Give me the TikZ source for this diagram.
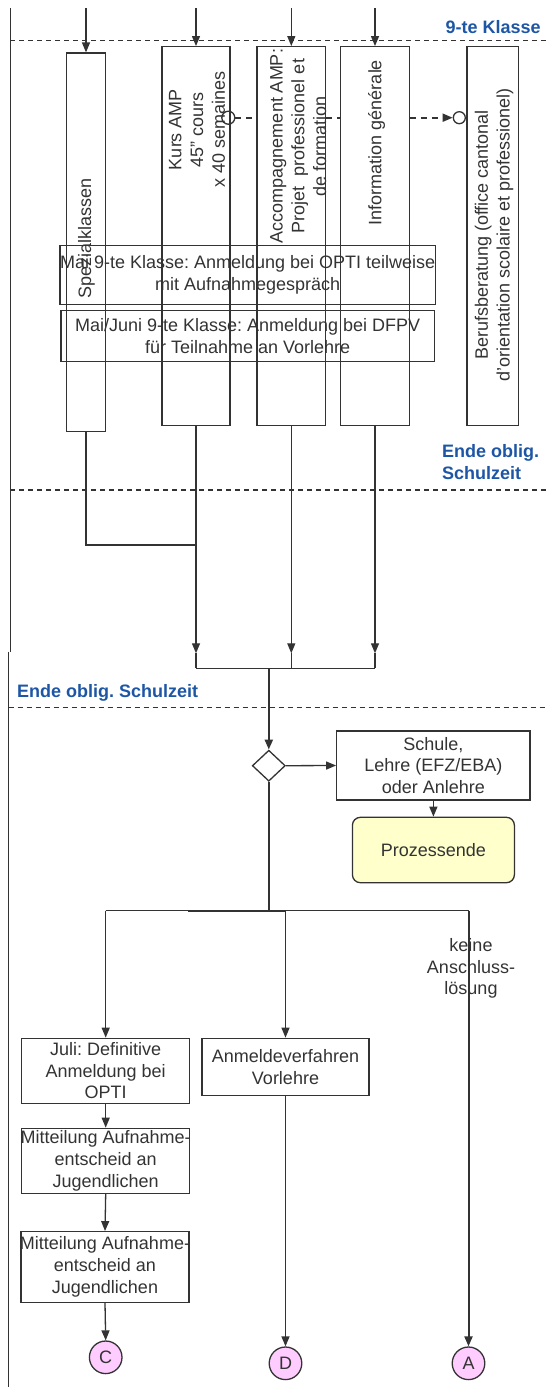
\documentclass[tikz,border=0pt]{standalone}
\usepackage{fontspec}
\setmainfont{Liberation Sans}
\usetikzlibrary{arrows.meta,shapes.geometric}
\definecolor{ink}{RGB}{51,51,51}
\definecolor{lanecol}{RGB}{30,86,166}
\definecolor{endfill}{RGB}{255,255,204}
\definecolor{connfill}{RGB}{255,204,255}
\newcommand{\dfont}{\fontsize{18pt}{21.7pt}\selectfont}
\frenchspacing

\begin{document}
\begin{tikzpicture}[x=1pt,y=-1pt,color=ink,line width=1.3pt,font=\dfont,
    box/.style={draw,rectangle,inner sep=0pt,align=center},
    vtext/.style={rotate=90,align=center,inner sep=0pt},
    lane/.style={font=\dfont\bfseries,text=lanecol,inner sep=0pt},
    lanedash/.style={dash pattern=on 5pt off 4pt},
    dcon/.style={dash pattern=on 6pt off 5pt,line width=1.8pt},
    ring/.style={circle,draw,inner sep=0pt},
    conn/.style={circle,draw,fill=connfill,inner sep=0pt,minimum size=32.6pt},
    arr/.style={-{Triangle[length=10pt,width=8pt]}},
    trunk/.style={line width=2.2pt}]
    \useasboundingbox (0,0) rectangle (546,1387);

    \draw (10.4,8.3) -- (10.4,651.7);
    \draw (8.7,651.7) -- (8.7,1387);
    \draw[lanedash] (10.4,40.7) -- (546,40.7);
    \draw[lanedash] (10.4,490) -- (546,490);
    \draw[lanedash] (8.7,707.3) -- (546,707.3);
    \node[lane,anchor=base east] (lab9) at (541.4,33.3) {9-te Klasse};
    \node[lane,anchor=north west,align=left] (labEnd) at (441.5,444.2) {Ende oblig.\\Schulzeit};
    \node[lane,anchor=base west] (labEndB) at (16.4,697.5) {Ende oblig. Schulzeit};

    \node[box,minimum width=38.6pt,minimum height=378.7pt] (spez) at (86,242.4) {};
    \node[box,minimum width=68pt,minimum height=379pt] (kurs) at (196,236.2) {};
    \node[box,minimum width=68.6pt,minimum height=379pt] (acc) at (291.3,236.2) {};
    \node[box,minimum width=68.6pt,minimum height=379pt] (info) at (375,236.2) {};
    \node[box,minimum width=51.3pt,minimum height=379pt] (beruf) at (492.7,236.2) {};
    \node[vtext] (spezT) at (86.5,238) {Spezialklassen};
    \node[vtext] (kursT) at (197,129.5) {Kurs AMP\\45'' cours\\x 40 semaines};
    \node[vtext] (accT) at (298.3,146) {Accompagnement AMP:\\Projet~ professionel et\\de formation};
    \node[vtext] (infoT) at (376.5,142.5) {Information générale};
    \node[vtext] (berufT) at (494,235) {Berufsberatung (office cantonal\\d'orientation scolaire et professionel)};
    \node[box,minimum width=373.3pt,minimum height=58.6pt] (opti) at (247.7,275) {Mai 9-te Klasse: Anmeldung bei OPTI teilweise\\mit Aufnahmegespräch};
    \node[box,minimum width=373.3pt,minimum height=51pt] (dfpv) at (247.7,336.2) {Mai/Juni 9-te Klasse: Anmeldung bei DFPV\\für Teilnahme an Vorlehre};

    \foreach \n in {spez,kurs,acc,info}
        \draw[arr] (\n.north |- 0,8.3) -- (\n.north);

    \node[ring,minimum size=13pt] (ringK) at (228.3,117.7) {};
    \node[ring,minimum size=12pt] (ringB) at (459.3,117.7) {};
    \draw[dcon] (ringK.east) -- (acc.west |- ringK);
    \draw[dcon] (acc.east |- ringK) -- (info.west |- ringK);
    \draw[dcon,arr] (info.east |- ringK) -- (ringB.west);

    \coordinate (barL) at (196,668.3);
    \coordinate (barR) at (375,668.3);
    \coordinate (bar) at (268.8,668.3);
    \draw (spez.south) |- (196,545);
    \foreach \n in {kurs,acc,info}{
        \draw[arr] (\n.south) -- ([yshift=15pt]\n.south |- barL);
        \draw ([yshift=15pt]\n.south |- barL) -- (\n.south |- barL);
    }
    \draw (barL) -- (barR);

    \node[diamond,draw,fill=white,aspect=1,inner sep=0pt,minimum width=33pt,minimum height=31pt] (dia) at (268.8,765.7) {};
    \node[box,minimum width=193.3pt,minimum height=69pt] (schule) at (433.4,765.5) {Schule,\\Lehre (EFZ/EBA)\\oder Anlehre};
    \node[box,fill=endfill,rounded corners=8pt,minimum width=162pt,minimum height=65.4pt] (ende) at (433.4,850) {Prozessende};
    \draw[trunk,arr] (bar) -- (dia.north);
    \draw[arr] (dia.east) -- (schule.west);
    \draw[arr] (schule.south) -- (ende.north);

    \node[box,minimum width=168.2pt,minimum height=65pt] (juli) at (105.7,1070.8) {Juli: Definitive\\Anmeldung bei\\OPTI};
    \node[box,minimum width=167pt,minimum height=57.4pt] (anm) at (285.5,1067) {Anmeldeverfahren\\Vorlehre};
    \node[box,minimum width=168.2pt,minimum height=65pt] (mitt1) at (105.7,1160.8) {};
    \node[align=center,inner sep=0pt] (mitt1T) at (mitt1) {Mitteilung Aufnahme-\\entscheid an\\Jugendlichen};
    \node[box,minimum width=168.1pt,minimum height=70.6pt] (mitt2) at (105,1267) {};
    \node[align=center,inner sep=0pt] (mitt2T) at (mitt2) {Mitteilung Aufnahme-\\entscheid an\\Jugendlichen};
    \node[conn] (cc) at (105.7,1357.3) {C};
    \node[conn] (cd) at (285.5,1363.3) {D};
    \node[conn] (ca) at (468.5,1363.3) {A};
    \node[align=center,inner sep=0pt] (keine) at (471,968.5) {keine\\Anschluss-\\lösung};

    \coordinate (split) at (268.8,910.7);
    \draw[trunk] (dia.south) -- (split);
    \draw (juli.north |- split) -- (ca.north |- split);
    \draw[trunk] ([xshift=-80.8pt]split) -- (anm.north |- split);
    \draw[arr] (juli.north |- split) -- (juli.north);
    \draw[arr] (anm.north |- split) -- (anm.north);
    \draw[arr,line width=2pt] (ca.north |- split) -- (ca.north);
    \draw[arr] (juli.south) -- (mitt1.north);
    \draw[arr] (mitt1.south) -- (mitt2.north);
    \draw[arr] (mitt2.south) -- (cc.north);
    \draw[arr] (anm.south) -- (cd.north);
\end{tikzpicture}
\end{document}
